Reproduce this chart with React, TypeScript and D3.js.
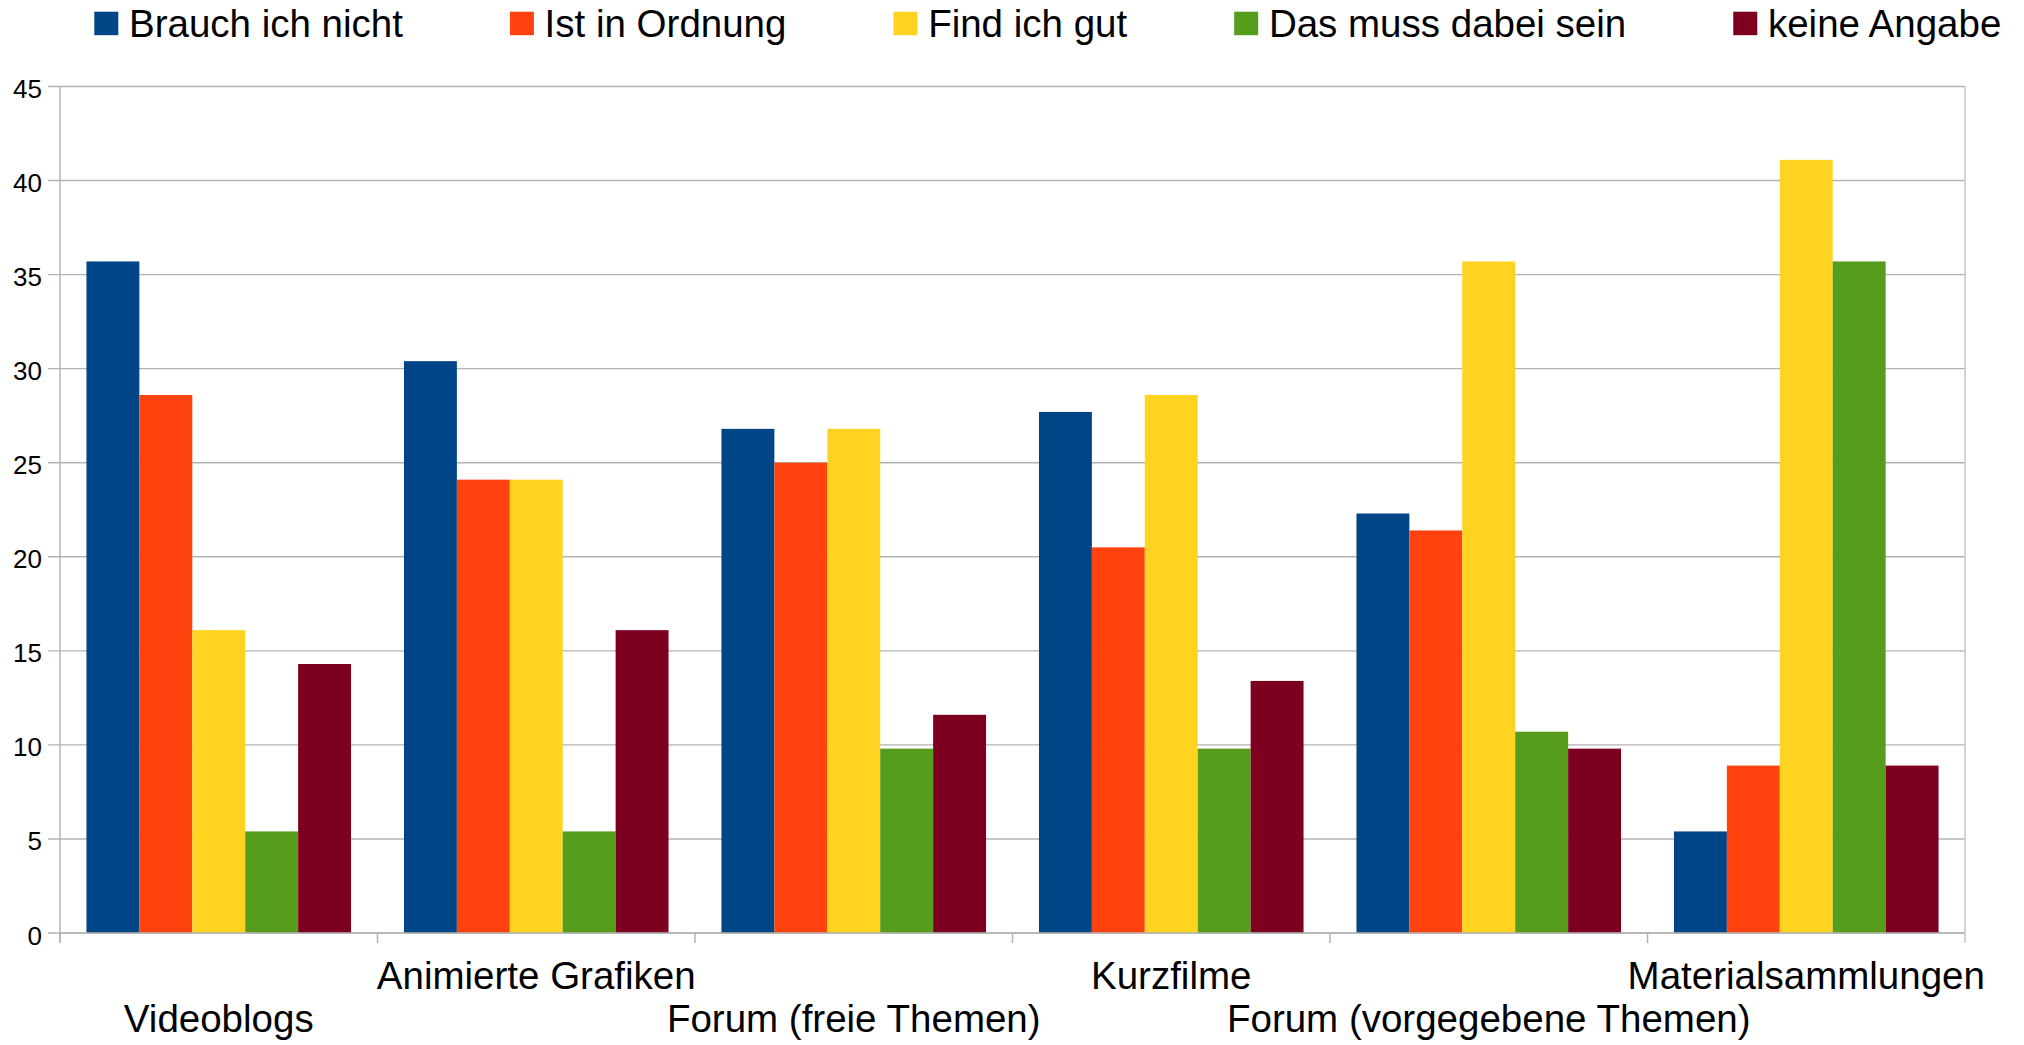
import React, { useEffect, useRef } from 'react';
import * as d3 from 'd3';

const categories = [
  'Videoblogs',
  'Animierte Grafiken',
  'Forum (freie Themen)',
  'Kurzfilme',
  'Forum (vorgegebene Themen)',
  'Materialsammlungen',
];

const seriesNames = ['Brauch ich nicht', 'Ist in Ordnung', 'Find ich gut', 'Das muss dabei sein', 'keine Angabe'];
const seriesColors = ['#004586', '#ff420e', '#ffd320', '#579d1c', '#7e0021'];

const brauchIchNicht = [35.7, 30.4, 26.8, 27.7, 22.3, 5.4];
const istInOrdnung = [28.6, 24.1, 25.0, 20.5, 21.4, 8.9];
const findIchGut = [16.1, 24.1, 26.8, 28.6, 35.7, 41.1];
const mussDabeiSein = [5.4, 5.4, 9.8, 9.8, 10.7, 35.7];
const keineAngabe = [14.3, 16.1, 11.6, 13.4, 9.8, 8.9];

const seriesValues = [brauchIchNicht, istInOrdnung, findIchGut, mussDabeiSein, keineAngabe];
const yTicks = [0, 5, 10, 15, 20, 25, 30, 35, 40, 45];

const W = 2024;
const H = 1045;
const FONT = '"Liberation Sans", Arial, sans-serif';

const App = () => {
  const legendRef = useRef<SVGGElement>(null);

  const left = 60;
  const right = 1965;
  const top = 86.5;
  const bottom = 933;

  const x0 = d3.scaleBand<string>().domain(categories).range([left, right]).padding(0);
  const x1 = d3
    .scaleBand<string>()
    .domain(seriesNames)
    .range([0, x0.bandwidth()])
    .paddingInner(0)
    .paddingOuter(0.5);
  const y = d3.scaleLinear().domain([0, 45]).range([bottom, top]);

  // legend: measure each label, then lay the entries out in one row
  useEffect(() => {
    const g = d3.select(legendRef.current);
    g.selectAll('*').remove();
    let xPos = 94.3;
    seriesNames.forEach((name, i) => {
      g.append('rect')
        .attr('x', xPos)
        .attr('y', 11.7)
        .attr('width', 24)
        .attr('height', 23.5)
        .attr('fill', seriesColors[i]);
      const t = g
        .append('text')
        .attr('x', xPos + 34.7)
        .attr('y', 36.5)
        .attr('font-family', FONT)
        .attr('font-size', 38.5)
        .attr('fill', '#000')
        .text(name);
      const w = (t.node() as SVGTextElement).getComputedTextLength();
      xPos += 34.7 + w + 107;
    });
  }, []);

  return (
    <svg
      width={W}
      height={H}
      style={{ position: 'absolute', left: 0, top: 0, display: 'block', background: '#fff' }}
    >
      <rect x={0} y={0} width={W} height={H} fill="#fff" />

      {/* gridlines */}
      {yTicks.map((t) => (
        <line key={t} x1={left - 12} x2={right} y1={y(t)} y2={y(t)} stroke="#b3b3b3" strokeWidth={1.4} />
      ))}

      {/* y tick labels */}
      {yTicks.map((t) => (
        <text
          key={'l' + t}
          x={42}
          y={y(t) + 11.5}
          textAnchor="end"
          fontFamily={FONT}
          fontSize={26}
          fill="#000"
        >
          {t}
        </text>
      ))}

      {/* left axis and right border */}
      <line x1={left} x2={left} y1={top} y2={bottom + 10} stroke="#b3b3b3" strokeWidth={1.5} />
      <line x1={right} x2={right} y1={top} y2={bottom + 10} stroke="#c8c8c8" strokeWidth={1.6} />

      {/* category ticks */}
      {categories.map((c) => (
        <line
          key={'t' + c}
          x1={x0(c)!}
          x2={x0(c)!}
          y1={bottom}
          y2={bottom + 10}
          stroke="#b3b3b3"
          strokeWidth={1.5}
        />
      ))}

      {/* bars */}
      {categories.map((c, ci) => (
        <g key={c} transform={`translate(${x0(c)},0)`}>
          {seriesNames.map((s, si) => (
            <rect
              key={s}
              x={x1(s)!}
              y={y(seriesValues[si][ci])}
              width={x1.bandwidth()}
              height={bottom - y(seriesValues[si][ci])}
              fill={seriesColors[si]}
            />
          ))}
        </g>
      ))}

      {/* bottom axis */}
      <line x1={left} x2={right} y1={bottom} y2={bottom} stroke="#b3b3b3" strokeWidth={1.5} />

      {/* category labels, staggered in two rows */}
      {categories.map((c, i) => (
        <text
          key={'c' + c}
          x={x0(c)! + x0.bandwidth() / 2}
          y={i % 2 === 1 ? 989 : 1032}
          textAnchor="middle"
          fontFamily={FONT}
          fontSize={38.5}
          fill="#000"
        >
          {c}
        </text>
      ))}

      <g ref={legendRef} />
    </svg>
  );
};

export default App;
